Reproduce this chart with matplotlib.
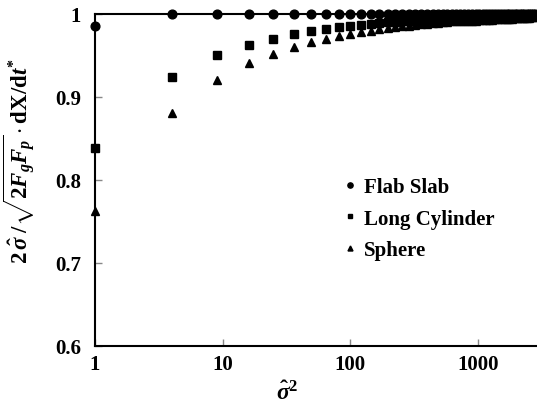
import matplotlib
matplotlib.use("Agg")
import matplotlib.pyplot as plt

plt.rcParams['font.family'] = ['Liberation Serif', 'DejaVu Serif']
plt.rcParams['font.weight'] = 'bold'
plt.rcParams['mathtext.fontset'] = 'custom'
plt.rcParams['mathtext.rm'] = 'Liberation Serif:bold'
plt.rcParams['mathtext.it'] = 'Liberation Serif:italic:bold'
plt.rcParams['mathtext.bf'] = 'Liberation Serif:bold'

sigma2 = [1, 4, 9, 16, 25, 36, 49, 64, 81, 100, 121, 144, 169, 196, 225, 256,
          289, 324, 361, 400, 441, 484, 529, 576, 625, 676, 729, 784, 841, 900,
          961, 1024, 1089, 1156, 1225, 1296, 1369, 1444, 1521, 1600, 1681, 1764,
          1849, 1936, 2025, 2116, 2209, 2304, 2401, 2500, 2601, 2704, 2809]

flat_slab = [0.986] + [1.0] * 52

long_cylinder = [0.839, 0.924, 0.951, 0.963, 0.970, 0.976, 0.979, 0.982, 0.984, 0.986,
                 0.987, 0.988, 0.989, 0.990, 0.990, 0.991, 0.991, 0.992, 0.992, 0.993,
                 0.993, 0.993, 0.994, 0.994, 0.994, 0.994, 0.995, 0.995, 0.995, 0.995,
                 0.995, 0.996, 0.996, 0.996, 0.996, 0.996, 0.996, 0.996, 0.996, 0.996,
                 0.997, 0.997, 0.997, 0.997, 0.997, 0.997, 0.997, 0.997, 0.997, 0.997,
                 0.997, 0.997, 0.997]

sphere = [0.763, 0.881, 0.921, 0.941, 0.952, 0.960, 0.966, 0.970, 0.974, 0.976,
          0.978, 0.980, 0.982, 0.983, 0.984, 0.985, 0.986, 0.987, 0.988, 0.988,
          0.989, 0.989, 0.990, 0.990, 0.991, 0.991, 0.991, 0.992, 0.992, 0.992,
          0.992, 0.993, 0.993, 0.993, 0.993, 0.993, 0.994, 0.994, 0.994, 0.994,
          0.994, 0.994, 0.994, 0.995, 0.995, 0.995, 0.995, 0.995, 0.995, 0.995,
          0.996, 0.996, 0.996]

labels = ['Flab Slab', 'Long Cylinder', 'Sphere']
xticks = [1, 10, 100, 1000]
xticklabels = ['1', '10', '100', '1000']
yticks = [0.6, 0.7, 0.8, 0.9, 1.0]
yticklabels = ['0.6', '0.7', '0.8', '0.9', '1']

fig = plt.figure(figsize=(5.37, 4.06), dpi=100)
ax = fig.add_axes([95/537, 1-347/406, 1-95/537, (347-15)/406])

ax.plot(sigma2, flat_slab, 'o', color='black', ms=6.3, label=labels[0], clip_on=False, zorder=3)
ax.plot(sigma2, long_cylinder, 's', color='black', ms=5.8, label=labels[1], clip_on=False, zorder=3)
ax.plot(sigma2, sphere, '^', color='black', ms=6.0, label=labels[2], clip_on=False, zorder=3)

ax.set_xscale('log')
ax.set_xlim(1, 2900)
ax.set_ylim(0.6, 1.0)
ax.set_xticks(xticks)
ax.set_xticklabels(xticklabels)
ax.minorticks_off()
ax.set_yticks(yticks)
ax.set_yticklabels(yticklabels)

for s in ['left', 'bottom', 'top']:
    ax.spines[s].set_linewidth(1.5)
    ax.spines[s].set_color('black')
ax.spines['right'].set_visible(False)

ax.tick_params(axis='both', direction='in', length=5, width=1, color='#888888',
               labelsize=15, pad=6)
ax.tick_params(axis='y', pad=10)
for t in ax.get_xticklabels() + ax.get_yticklabels():
    t.set_fontweight('bold')

ax.set_xlabel(r'$\hat{\sigma}^{2}$', fontsize=17)
ax.xaxis.set_label_coords(0.434, -0.103)
ax.set_ylabel(r'$2\,\hat{\sigma}\;/\sqrt{2F_gF_p}\cdot\mathrm{dX/d}t^{*}$', fontsize=16.5)
ax.yaxis.set_label_coords(-0.128, 0.56)

leg = ax.legend(loc='upper left', bbox_to_anchor=(0.523, 0.565), frameon=False,
                markerscale=0.6, handlelength=0.5, handletextpad=0.4,
                labelspacing=0.55, prop={'family': 'Liberation Serif', 'weight': 'bold', 'size': 15})

fig.savefig('out.png', dpi=100)
